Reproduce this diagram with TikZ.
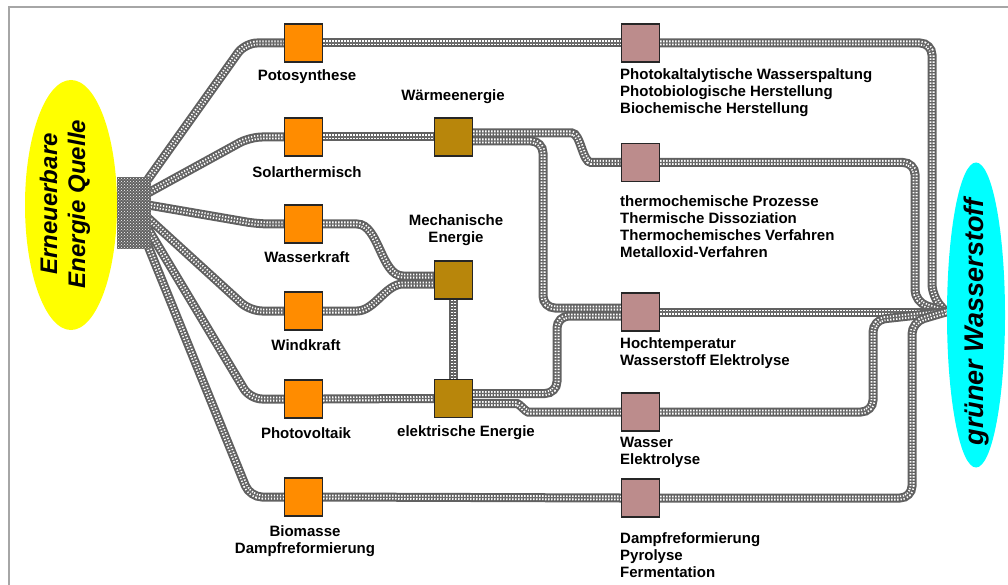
\documentclass[tikz,border=0pt]{standalone}
\usepackage{fontspec}
\setmainfont{Liberation Sans}
\usetikzlibrary{shapes.geometric,patterns,backgrounds,calc}
\definecolor{obox}{RGB}{255,140,0}
\definecolor{bbox}{RGB}{184,134,11}
\definecolor{pbox}{RGB}{188,140,140}
\definecolor{ycol}{RGB}{255,255,0}
\definecolor{ccol}{RGB}{0,255,255}
\begin{document}
\begin{tikzpicture}[x=1pt,y=-1pt,
  chain/.style={draw=white, line width=5pt, dash pattern=on 1.3pt off 1.7pt, rounded corners=12pt,
    preaction={draw=black!62, line width=9pt, solid},
    postaction={draw=black!58, line width=1.3pt, solid}},
  sq/.style={draw=black!85, line width=1.4pt, minimum size=38pt, inner sep=0pt},
  lbl/.style={font=\fontsize{15}{17}\selectfont\bfseries, inner sep=0pt, align=center},
  plbl/.style={font=\fontsize{15}{17}\selectfont\bfseries, inner sep=0pt, align=left, anchor=west},
  big/.style={font=\fontsize{24}{28}\selectfont\bfseries\itshape, align=center, rotate=90, inner sep=0pt}]
\useasboundingbox (0,0) rectangle (1008,585);
\draw[gray!70, line width=1.2pt] (9,585) -- (9,7) -- (1008,7);

% source / target
\node[ellipse, fill=ycol, minimum width=92pt, minimum height=250pt, inner sep=0pt] (src) at (71,205) {};
\node[big] (srct) at (65,204) {Erneuerbare\\Energie Quelle};
\node[ellipse, fill=ccol, minimum width=58pt, minimum height=305pt, inner sep=0pt] (h2e) at (976,315) {};
\node[big, font=\fontsize{27}{30}\selectfont\bfseries\itshape] (h2t) at (977,322) {grüner Wasserstoff};

% fan block
\node[preaction={fill=black!62}, pattern=crosshatch dots, pattern color=white, minimum width=34pt, minimum height=72pt, inner sep=0pt] (fan) at (134,213) {};
\coordinate (f1) at (146,182);
\coordinate (f2) at (148,193);
\coordinate (f3) at (148,205);
\coordinate (f4) at (148,218);
\coordinate (f5) at (148,229);
\coordinate (f6) at (146,241);
\coordinate (h2) at (946,312);

% orange boxes
\node[sq, fill=obox] (P) at (303.5,43) {};
\node[sq, fill=obox] (S) at (303.5,137) {};
\node[sq, fill=obox] (W) at (303.5,224) {};
\node[sq, fill=obox] (Wi) at (303.5,311) {};
\node[sq, fill=obox] (PV) at (303.5,399) {};
\node[sq, fill=obox] (B) at (303.5,497) {};
\node[lbl] (Pl) at (307,77) {Potosynthese};
\node[lbl] (Sl) at (307,172) {Solarthermisch};
\node[lbl] (Wl) at (307,257) {Wasserkraft};
\node[lbl] (Wil) at (306,345) {Windkraft};
\node[lbl] (PVl) at (306,433) {Photovoltaik};
\node[lbl] (Bl) at (305,541) {Biomasse\\Dampfreformierung};

% brown boxes
\node[sq, fill=bbox] (WE) at (453.5,137) {};
\node[sq, fill=bbox] (ME) at (453.5,280) {};
\node[sq, fill=bbox] (EE) at (453.5,398.5) {};
\node[lbl] (WEl) at (453,97) {Wärmeenergie};
\node[lbl] (MEl) at (456,230) {Mechanische\\Energie};
\node[lbl] (EEl) at (466,433) {elektrische Energie};

% pink boxes
\node[sq, fill=pbox] (k1) at (640.5,43) {};
\node[sq, fill=pbox] (k2) at (640.5,162.5) {};
\node[sq, fill=pbox] (k3) at (640.5,312) {};
\node[sq, fill=pbox] (k4) at (640.5,412) {};
\node[sq, fill=pbox] (k5) at (640.5,498) {};
\node[plbl] (k1l) at (620,93) {Photokaltalytische Wasserspaltung\\Photobiologische Herstellung\\Biochemische Herstellung};
\node[plbl] (k2l) at (620,226.5) {thermochemische Prozesse\\Thermische Dissoziation\\Thermochemisches Verfahren\\Metalloxid-Verfahren};
\node[plbl] (k3l) at (620,353.5) {Hochtemperatur\\Wasserstoff Elektrolyse};
\node[plbl] (k4l) at (620,452) {Wasser\\Elektrolyse};
\node[plbl] (k5l) at (620,555) {Dampfreformierung\\Pyrolyse\\Fermentation};

\begin{scope}[on background layer]
% fan to orange boxes
\draw[chain] (f1) -- (245,43) -- (P.west);
\draw[chain] (f2) -- (250,137) -- (S.west);
\draw[chain] (f3) -- (258,224) -- (W.west);
\draw[chain] (f4) -- (250,311) -- (Wi.west);
\draw[chain] (f5) -- (250,399) -- (PV.west);
\draw[chain] (f6) -- (250,497) -- (B.west);
% orange to next
\draw[chain] (P.east) -- (k1.west);
\draw[chain] (S.east) -- (WE.west);
\draw[chain] (PV.east) -- (EE.west);
\draw[chain] (B.east) -- (k5.west);
\draw[chain] (W.east) -- (345,224) to[out=0,in=180] (415,276) -- ($(ME.west)+(0,-4)$);
\draw[chain] (Wi.east) -- (345,311) to[out=0,in=180] (415,284) -- ($(ME.west)+(0,4)$);
\draw[chain] (ME.south) -- (EE.north);
% brown to pink
\draw[chain] ($(WE.east)+(0,-4)$) -- (560,133) to[out=0,in=180] (603,162.5) -- (k2.west);
\draw[chain] ($(WE.east)+(0,4)$) -- (543,141) -- (543,308) -- ($(k3.west)+(0,-4)$);
\draw[chain] ($(EE.east)+(0,-5)$) -- (557,393.5) -- (557,316) -- ($(k3.west)+(0,4)$);
\draw[chain] ($(EE.east)+(0,5)$) -- (505,403.5) to[out=0,in=180] (540,412) -- (k4.west);
% pink to hydrogen
\draw[chain] (k1.east) -- (932,43) -- (932,296) -- (h2);
\draw[chain] (k2.east) -- (915,162.5) -- (915,302) -- (h2);
\draw[chain] (k3.east) -- (h2);
\draw[chain] (k4.east) -- (873,412) -- (873,320) -- (h2);
\draw[chain] (k5.east) -- (912,498) -- (912,322) -- (h2);
\end{scope}
\end{tikzpicture}
\end{document}
